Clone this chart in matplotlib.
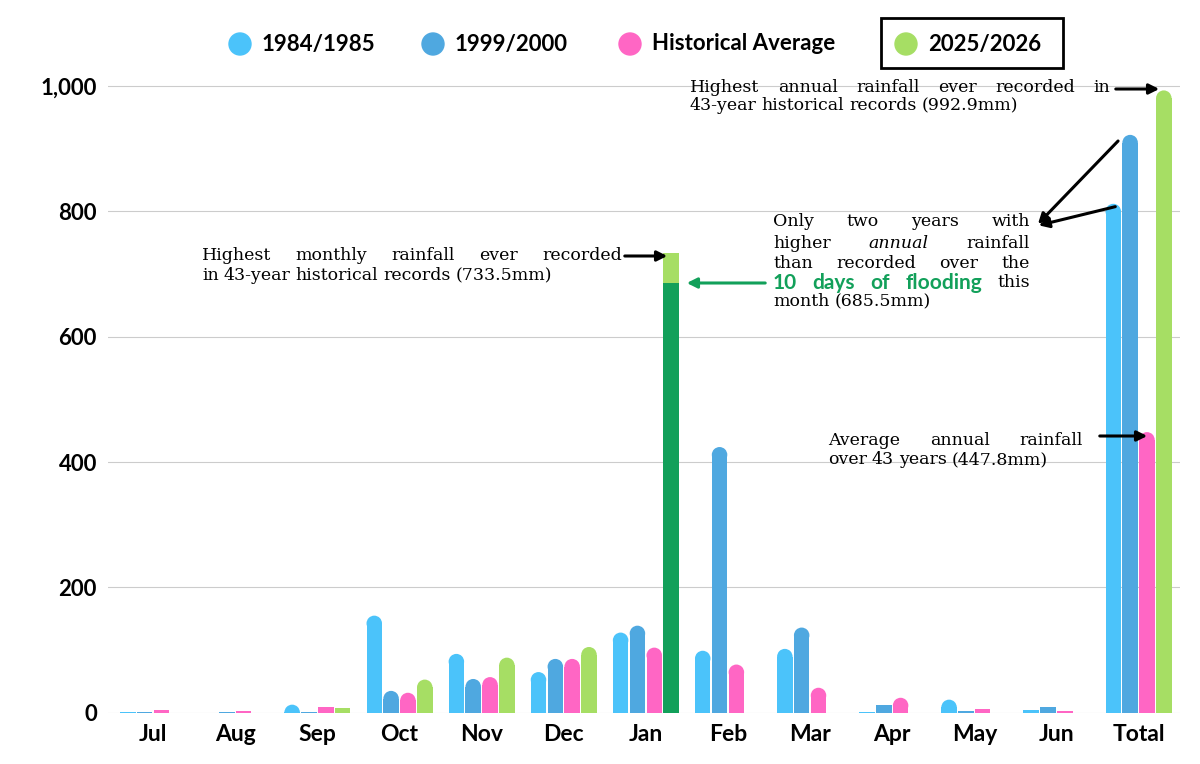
import matplotlib.pyplot as plt
from matplotlib.patches import Ellipse, Rectangle

months = ['Jul', 'Aug', 'Sep', 'Oct', 'Nov', 'Dec', 'Jan', 'Feb', 'Mar', 'Apr', 'May', 'Jun', 'Total']
y1984 = [0.5, 0, 13, 155, 94, 65, 128, 99, 102, 1, 21, 5, 812]
y1999 = [2, 1, 1, 35, 54, 86, 139, 424, 136, 12, 3, 9, 922]
yhist = [4, 3, 9, 32, 57, 86, 104, 77, 40, 24, 6, 3, 447.8]
y2025 = [None, None, 7, 53, 88, 105, 733.5, None, None, None, None, None, 992.9]
jan_flood = 685.5

c1984 = '#4BC3FA'
c1999 = '#4FA8E0'
chist = '#FF66C4'
c2025 = '#A6DE64'
cflood = '#12A05A'

plt.rcParams['font.family'] = ['Lato', 'DejaVu Sans']
fig = plt.figure(figsize=(12, 7.64), dpi=100)
ax = fig.add_axes([0.09, 0.067, 0.893, 0.841])
ymax = 1025
ax.set_xlim(-0.55, 12.5)
ax.set_ylim(0, ymax)

w = 0.205
ax_w_px = 0.893 * 1200
ax_h_px = 0.841 * 764
x_per_px = 13.05 / ax_w_px
y_per_px = ymax / ax_h_px
w_px = w * 0.92 / x_per_px
r_y = w_px / 2 * y_per_px


def rbar(x, h, color, rounded=True):
    bw = w * 0.92
    if h <= 0:
        return
    if rounded and h > r_y:
        ax.add_patch(Rectangle((x - bw / 2, 0), bw, h - r_y, color=color, lw=0))
        ax.add_patch(Ellipse((x, h - r_y), bw, 2 * r_y, color=color, lw=0))
    else:
        ax.add_patch(Rectangle((x - bw / 2, 0), bw, h, color=color, lw=0))


for i in range(len(months)):
    rbar(i - 1.5 * w, y1984[i], c1984)
    rbar(i - 0.5 * w, y1999[i], c1999)
    rbar(i + 0.5 * w, yhist[i], chist)
    if y2025[i] is not None:
        if months[i] == 'Jan':
            rbar(i + 1.5 * w, y2025[i], c2025, rounded=False)
            rbar(i + 1.5 * w, jan_flood, cflood, rounded=False)
        else:
            rbar(i + 1.5 * w, y2025[i], c2025)

ax.set_xticks(range(len(months)))
ax.set_xticklabels(months, fontsize=16.5, fontweight='bold')
ax.set_yticks([0, 200, 400, 600, 800, 1000])
ax.set_yticklabels(['0', '200', '400', '600', '800', '1,000'], fontsize=16, fontweight='bold')
ax.tick_params(length=0, pad=8)
ax.grid(axis='y', color='#cccccc', lw=0.8)
ax.set_axisbelow(True)
for s in ax.spines.values():
    s.set_visible(False)

# legend, drawn by hand (pixel positions from top-left)
leg_labels = ['1984/1985', '1999/2000', 'Historical Average', '2025/2026']
leg_colors = [c1984, c1999, chist, c2025]
leg_x = [240, 433, 630, 906]
for lx, lab, col in zip(leg_x, leg_labels, leg_colors):
    fig.add_artist(Ellipse((lx / 1200, 1 - 44 / 764), 22 / 1200, 22 / 764,
                           transform=fig.transFigure, color=col))
    fig.text((lx + 22) / 1200, 1 - 44 / 764, lab, fontsize=16, fontweight='bold', va='center')
fig.add_artist(Rectangle((881 / 1200, 1 - 68 / 764), (1063 - 881) / 1200, 50 / 764,
                         transform=fig.transFigure, fill=False, ec='black', lw=2))

# annotations
serif = {'family': ['DejaVu Serif'], 'size': 12.5}
green = {'family': ['Lato', 'DejaVu Sans'], 'size': 15, 'fontweight': 'bold', 'color': cflood}
fig.canvas.draw()
rend = fig.canvas.get_renderer()


def jline(words, x0, py, x1=None):
    # words: list of (word, style); justified between x0 and x1 if x1 given
    arts = []
    for wd, st in words:
        t = fig.text(0, 1 - py / 764, wd, va='center', ha='left', **st)
        arts.append(t)
    widths = [a.get_window_extent(rend).width for a in arts]
    if x1 is not None and len(arts) > 1:
        gap = (x1 - x0 - sum(widths)) / (len(arts) - 1)
    else:
        gap = 5
    x = x0
    for a, wd in zip(arts, widths):
        a.set_x(x / 1200)
        x += wd + gap


def s(text, st=serif):
    return [(wd, st) for wd in text.split()]


jline(s('Highest annual rainfall ever recorded in'), 690, 87, 1110)
jline(s('43-year historical records (992.9mm)'), 690, 106)

jline(s('Highest monthly rainfall ever recorded'), 202, 256, 622)
jline(s('in 43-year historical records (733.5mm)'), 202, 276)

jline(s('Only two years with'), 773, 222, 1030)
jline(s('higher') + [('annual', dict(serif, style='italic'))] + s('rainfall'), 773, 243, 1030)
jline(s('than recorded over the'), 773, 263, 1030)
jline(s('10 days of flooding', green) + s('this'), 773, 283, 1030)
jline(s('month (685.5mm)'), 773, 302)

jline(s('Average annual rainfall'), 828, 440, 1083)
jline(s('over 43 years (447.8mm)'), 828, 460)

arrow = dict(arrowstyle='-|>', color='black', lw=2.2, mutation_scale=15)


def parrow(p0, p1, props=arrow):
    ax.annotate('', xy=(p1[0], 764 - p1[1]), xytext=(p0[0], 764 - p0[1]),
                xycoords='figure pixels', textcoords='figure pixels', arrowprops=props)


parrow((1113, 89), (1162, 89))
parrow((622, 256), (670, 256))
parrow((768, 283), (684, 283), dict(arrow, color=cflood))
parrow((1120, 139), (1036, 226))
parrow((1118, 206), (1036, 226))
parrow((1097, 436), (1150, 436))

fig.savefig('out.png')
